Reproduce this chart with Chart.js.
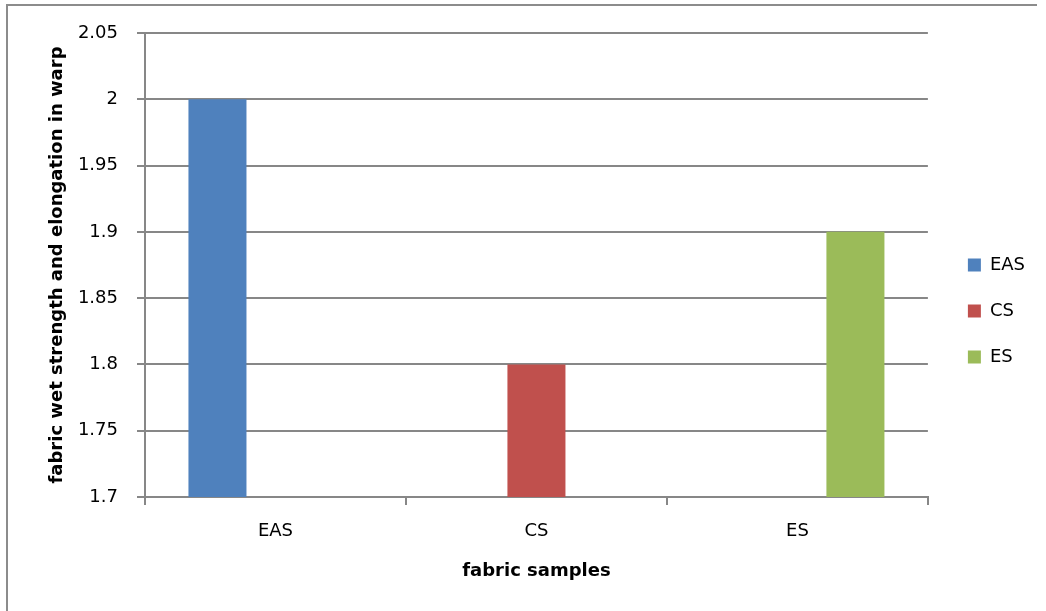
<!DOCTYPE html>
<html>
<head>
<meta charset="utf-8">
<script src="https://cdn.jsdelivr.net/npm/chart.js@4.4.1/dist/chart.umd.min.js"></script>
<style>
  html, body { margin: 0; padding: 0; background: #fff; }
  #wrap { position: relative; width: 1046px; height: 611px; overflow: hidden; }
  #wrap canvas { position: absolute; left: 0; top: 0; }
  #frame {
    position: absolute; left: 6px; top: 4px; width: 1029px; height: 700px;
    border-top: 2px solid #8c8c8c; border-left: 2px solid #8c8c8c;
    pointer-events: none;
  }
</style>
</head>
<body>
<div id="wrap">
  <canvas id="chart" width="1046" height="611"></canvas>
  <div id="frame"></div>
</div>
<script>
// Categories and one series per fabric sample
const categories = ['EAS', 'CS', 'ES'];
const seriesNames = ['EAS', 'CS', 'ES'];
const easValues = [2.0, null, null];
const csValues = [null, 1.8, null];
const esValues = [null, null, 1.9];
const seriesColors = ['#4F81BD', '#C0504D', '#9BBB59'];

// Value axis ticks
const yTickValues = [1.7, 1.75, 1.8, 1.85, 1.9, 1.95, 2.0, 2.05];
const yTickLabels = ['1.7', '1.75', '1.8', '1.85', '1.9', '1.95', '2', '2.05'];

const xTitle = 'fabric samples';
const yTitle = 'fabric wet strength and elongation in warp';

const axisGray = '#878787';
const baseFont = { family: '"DejaVu Sans", sans-serif', size: 18 };
const boldFont = { family: '"DejaVu Sans", sans-serif', size: 18, weight: 'bold' };

const seriesValues = [easValues, csValues, esValues];
const datasets = seriesNames.map((name, i) => ({
  label: name,
  data: seriesValues[i],
  backgroundColor: seriesColors[i],
  borderWidth: 0,
  categoryPercentage: 0.667,
  barPercentage: 1.0,
  yAxisID: 'y'
}));

new Chart(document.getElementById('chart'), {
  type: 'bar',
  data: { labels: categories, datasets },
  options: {
    responsive: false,
    animation: false,
    devicePixelRatio: 1,
    layout: { padding: { top: 33, left: 0, right: 11, bottom: 22 } },
    plugins: {
      legend: {
        position: 'right',
        align: 'center',
        labels: {
          boxWidth: 13,
          boxHeight: 13,
          padding: 28,
          color: '#000',
          font: baseFont
        }
      },
      tooltip: { enabled: false }
    },
    scales: {
      x: {
        type: 'category',
        offset: true,
        grid: {
          offset: true,
          drawOnChartArea: false,
          drawTicks: true,
          tickLength: 8,
          color: axisGray,
          lineWidth: 2
        },
        border: { color: axisGray, width: 2 },
        ticks: { color: '#000', font: baseFont, padding: 16 },
        title: {
          display: true, text: xTitle, color: '#000', font: boldFont,
          padding: { top: 0, bottom: 7 }
        },
        afterFit(scale) { scale.height = 92; }
      },
      y: {
        type: 'linear',
        position: 'left',
        min: 1.7,
        max: 2.05,
        afterBuildTicks(scale) {
          scale.ticks = yTickValues.map(v => ({ value: v }));
        },
        ticks: {
          color: '#000', font: baseFont, padding: 19,
          callback: (value, index) => yTickLabels[index]
        },
        grid: { color: axisGray, lineWidth: 2, tickLength: 8, drawTicks: true },
        border: { color: axisGray, width: 2 },
        title: {
          display: true, text: yTitle, color: '#000', font: boldFont,
          padding: { top: 47, bottom: 0 }
        },
        afterFit(scale) { scale.width = 145; }
      },
      gap: {
        type: 'linear',
        position: 'right',
        display: true,
        grid: { display: false, drawTicks: false },
        ticks: { display: false },
        border: { display: false },
        afterFit(scale) { scale.width = 12; }
      }
    }
  }
});
</script>
</body>
</html>
